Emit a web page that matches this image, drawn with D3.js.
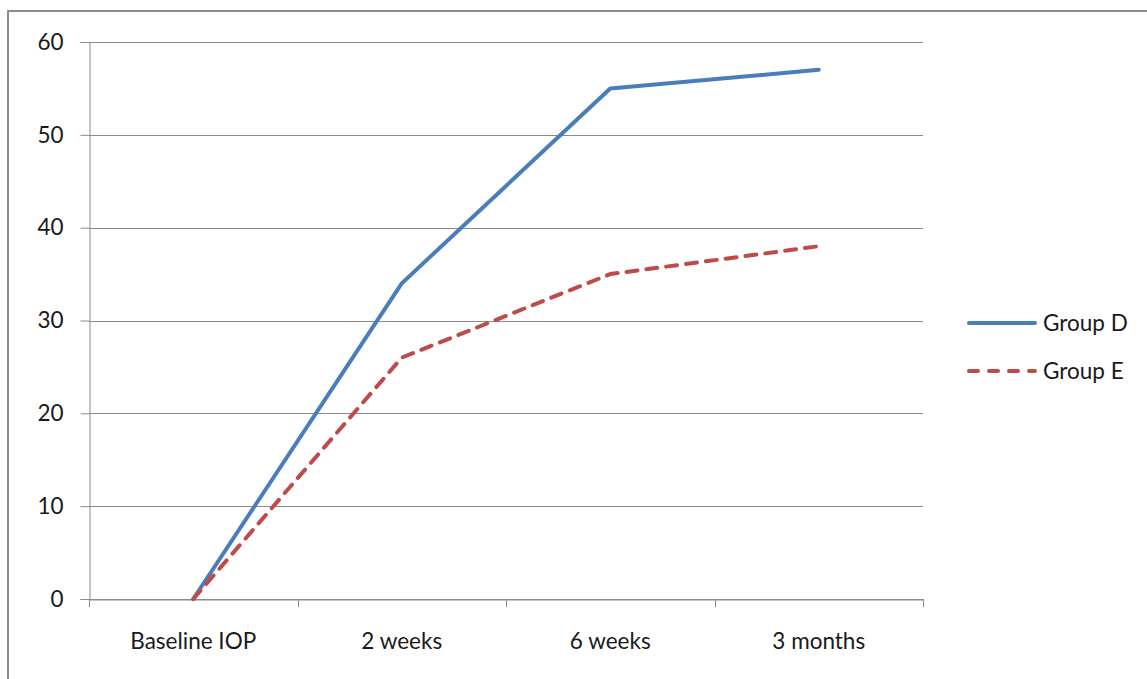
<!DOCTYPE html>
<html>
<head>
<meta charset="utf-8">
<script src="https://cdn.jsdelivr.net/npm/d3@7"></script>
<style>
  body { margin: 0; background: #fff; }
  svg { display: block; font-family: Lato, "Open Sans", sans-serif; }
</style>
</head>
<body>
<svg id="chart" width="1147" height="679"></svg>
<script>
const categories = ["Baseline IOP", "2 weeks", "6 weeks", "3 months"];
const groupD = [0, 34, 55, 57];
const groupE = [0, 26, 35, 38];
const yTicks = [0, 10, 20, 30, 40, 50, 60];

const series = [
    { name: "Group D", values: groupD, color: "#4a7ebb", dash: null },
    { name: "Group E", values: groupE, color: "#be4b48", dash: "11,9" }
];

const svg = d3.select("#chart");
const margin = { top: 42, left: 89, right: 224, bottom: 80 };
const width = 1147 - margin.left - margin.right;
const height = 679 - margin.top - margin.bottom;
const fontSize = "22.5px";
const fontFamily = "Lato, 'Open Sans', sans-serif";

// outer chart border (cropped at right and bottom)
svg.append("rect")
    .attr("x", 8).attr("y", 11)
    .attr("width", 1160).attr("height", 700)
    .attr("fill", "none")
    .attr("stroke", "#8c8c8c")
    .attr("stroke-width", 2);

const g = svg.append("g")
    .attr("transform", `translate(${margin.left}, ${margin.top})`);

const xScale = d3.scaleBand()
    .domain(categories)
    .range([0, width]);

const yScale = d3.scaleLinear()
    .domain([0, 60])
    .range([height, 0]);

// gridlines
g.append("g")
    .selectAll("line")
    .data(yTicks)
    .join("line")
    .attr("x1", 0).attr("x2", width)
    .attr("y1", d => Math.round(yScale(d)) + 0.5)
    .attr("y2", d => Math.round(yScale(d)) + 0.5)
    .attr("stroke", "#8a8a8a")
    .attr("stroke-width", 1);

// y axis
let yAxis = g.append("g")
    .attr("transform", "translate(0.5, 0)")
    .call(d3.axisLeft(yScale).tickValues(yTicks).tickSize(9).tickPadding(17))
    .attr("font-family", fontFamily);
yAxis.select(".domain").attr("stroke", "#8a8a8a");
yAxis.selectAll(".tick line").attr("stroke", "#8a8a8a");
yAxis.selectAll("text")
    .style("font-size", fontSize)
    .attr("fill", "#1a1a1a");

// x axis
let xAxis = g.append("g")
    .attr("transform", `translate(0, ${height + 0.5})`)
    .call(d3.axisBottom(xScale).tickSize(0).tickPadding(34))
    .attr("font-family", fontFamily);
xAxis.select(".domain").attr("stroke", "#8a8a8a");
xAxis.selectAll("text")
    .style("font-size", fontSize)
    .attr("fill", "#1a1a1a");

// category boundary ticks
g.append("g")
    .selectAll("line")
    .data(d3.range(categories.length + 1))
    .join("line")
    .attr("x1", i => Math.round(i * xScale.step()) + 0.5)
    .attr("x2", i => Math.round(i * xScale.step()) + 0.5)
    .attr("y1", height)
    .attr("y2", height + 8)
    .attr("stroke", "#8a8a8a");

// lines
let line = d3.line()
    .x((d, i) => xScale(categories[i]) + xScale.bandwidth() / 2)
    .y(d => yScale(d));

g.append("g")
    .selectAll("path")
    .data(series)
    .join("path")
    .attr("d", d => line(d.values))
    .attr("fill", "none")
    .attr("stroke", d => d.color)
    .attr("stroke-width", 4)
    .attr("stroke-linecap", "round")
    .attr("stroke-linejoin", "round")
    .attr("stroke-dasharray", d => d.dash);

// legend
let legend = svg.append("g")
    .attr("transform", "translate(967, 323)");

let items = legend.selectAll("g")
    .data(series)
    .join("g")
    .attr("transform", (d, i) => `translate(0, ${i * 48})`);

items.append("line")
    .attr("x1", 2).attr("x2", 68)
    .attr("y1", 0).attr("y2", 0)
    .attr("stroke", d => d.color)
    .attr("stroke-width", 4)
    .attr("stroke-linecap", "round")
    .attr("stroke-dasharray", d => d.dash ? "9,11" : null);

items.append("text")
    .attr("x", 76)
    .attr("y", 0)
    .attr("dy", "0.35em")
    .style("font-size", fontSize)
    .attr("fill", "#1a1a1a")
    .text(d => d.name);
</script>
</body>
</html>
